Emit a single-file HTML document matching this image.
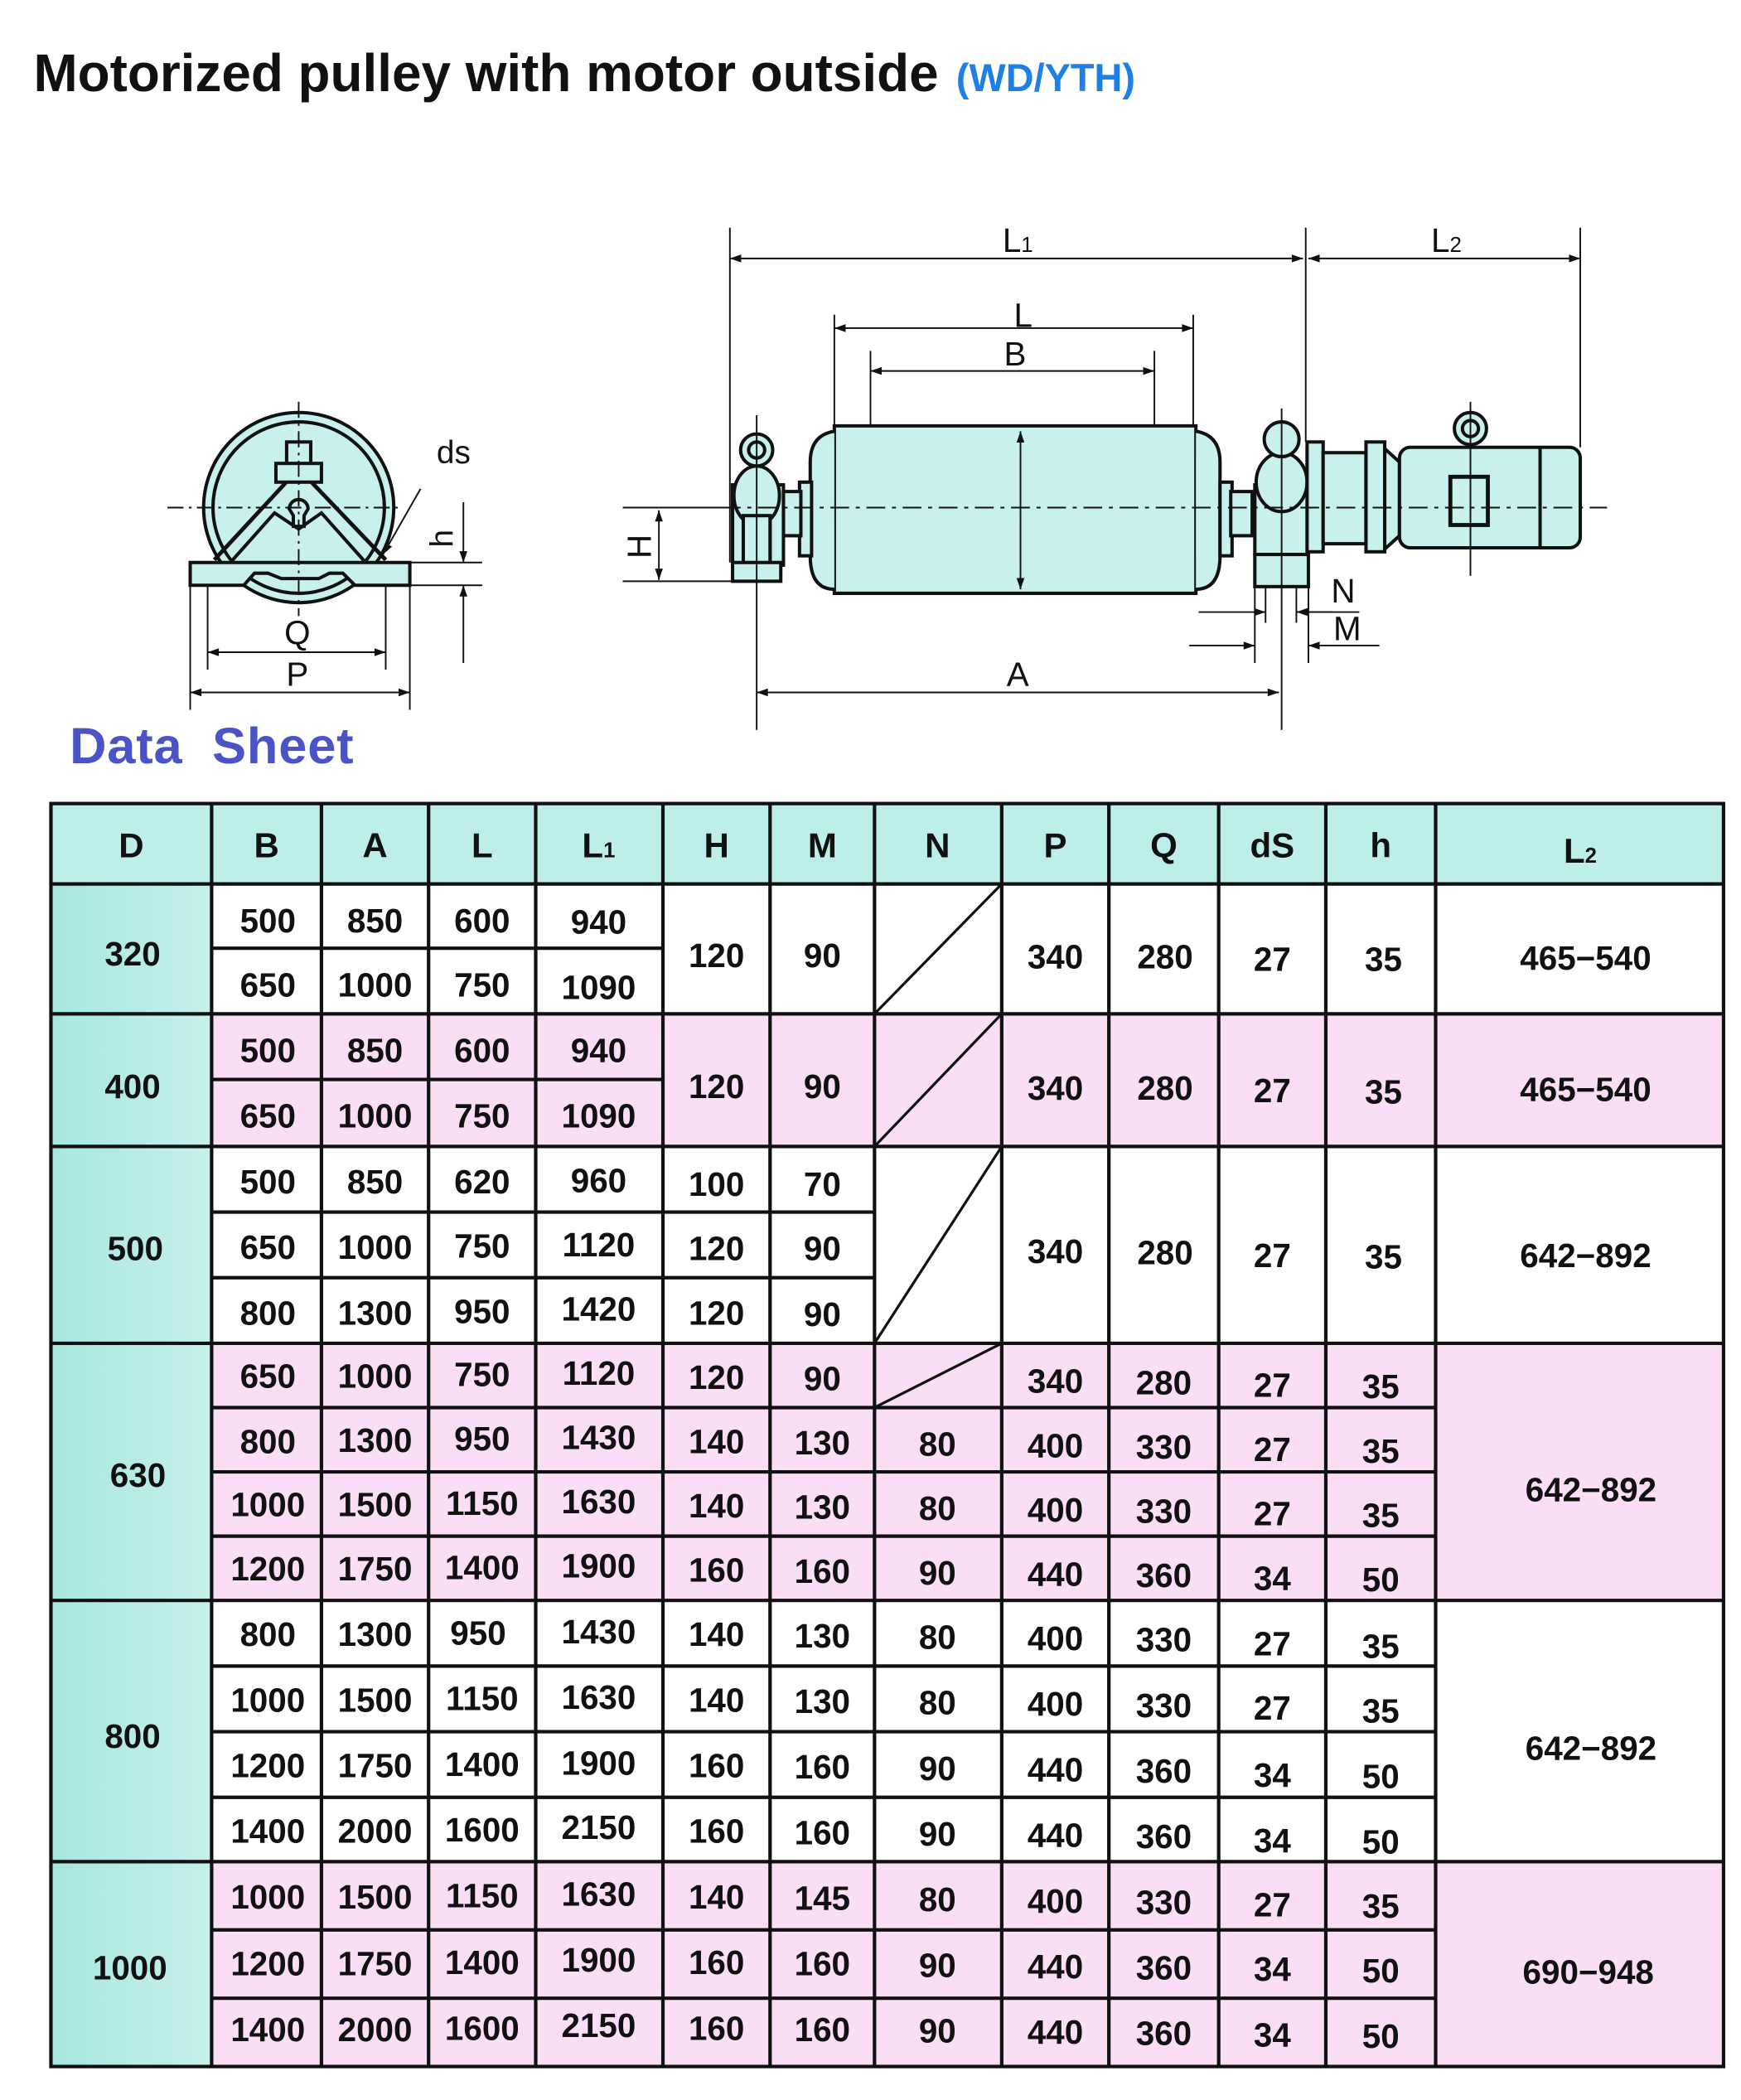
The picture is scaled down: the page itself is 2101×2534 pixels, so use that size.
<!DOCTYPE html>
<html><head><meta charset="utf-8"><style>
html,body{margin:0;padding:0;background:#fff;}
svg{display:block;}
text{font-family:"Liberation Sans",sans-serif;}
</style></head><body>
<svg width="2101" height="2534" viewBox="0 0 1300 1568" xmlns="http://www.w3.org/2000/svg">
<defs>
<marker id="ar" viewBox="0 0 10 10" refX="10" refY="5" markerWidth="9" markerHeight="7" orient="auto-start-reverse"><path d="M0,1.5 L10,5 L0,8.5 z" fill="#111"/></marker>
<linearGradient id="cy" x1="0" x2="1"><stop offset="0" stop-color="#a8e6e0"/><stop offset="1" stop-color="#c6f0ec"/></linearGradient>
</defs>
<text x="25" y="68" font-size="39.5" font-weight="bold" fill="#111">Motorized pulley with motor outside</text>
<text x="714" y="68" font-size="29" font-weight="bold" fill="#1e80e6">(WD/YTH)</text>

<!-- end view -->
<g stroke="#111" stroke-width="2.5" fill="none">
<circle cx="223" cy="379" r="71" fill="#c8f0ec"/>
<circle cx="223" cy="379" r="64"/>
<path d="M160,418 L223,350 L288,418" stroke-width="3"/>
<path d="M172,420 L205,383 L223,395 L240,383 L273,420" />
<rect x="214" y="330" width="18" height="18" fill="#c8f0ec"/>
<rect x="206" y="346" width="34" height="14" fill="#c8f0ec"/>
<path d="M216,380 a7,7 0 1 1 14,0 l-3,5 v8 h-8 v-8 z" fill="#c8f0ec"/>
<path d="M142,420 H306 V437 H265 L256,428 H246 L238,432 H210 L200,428 H190 L182,437 H142 Z" fill="#c8f0ec"/>
</g>
<g stroke="#111" stroke-width="1.2" fill="none">
<line x1="125" y1="379" x2="300" y2="379" stroke-dasharray="12,4,2,4"/>
<line x1="223" y1="300" x2="223" y2="460" stroke-dasharray="12,4,2,4"/>
<line x1="306" y1="420" x2="360" y2="420"/><line x1="306" y1="437" x2="360" y2="437"/>
<line x1="346" y1="375" x2="346" y2="420" marker-end="url(#ar)"/>
<line x1="346" y1="495" x2="346" y2="437" marker-end="url(#ar)"/>
<line x1="314" y1="365" x2="286" y2="414" marker-end="url(#ar)"/>
<line x1="142" y1="437" x2="142" y2="530"/><line x1="306" y1="437" x2="306" y2="530"/>
<line x1="155" y1="437" x2="155" y2="500"/><line x1="288" y1="437" x2="288" y2="500"/>
<line x1="155" y1="487" x2="288" y2="487" marker-start="url(#ar)" marker-end="url(#ar)"/>
<line x1="142" y1="517" x2="306" y2="517" marker-start="url(#ar)" marker-end="url(#ar)"/>
</g>
<text x="326" y="346" font-size="24" fill="#111">ds</text>
<text x="338" y="402" font-size="24" fill="#111" transform="rotate(-90 338 402)" text-anchor="middle">h</text>
<text x="222" y="481" font-size="25" fill="#111" text-anchor="middle">Q</text>
<text x="222" y="512" font-size="25" fill="#111" text-anchor="middle">P</text>

<!-- side view -->
<g stroke="#111" stroke-width="2.5" fill="#c8f0ec">
<path d="M623,318 H893 V443 H623 Z"/>
<path d="M623,322 Q605,325 605,345 V415 Q605,440 623,440"/>
<path d="M893,322 Q911,325 911,345 V415 Q911,440 893,440"/>
<rect x="597" y="360" width="9" height="55"/><rect x="911" y="360" width="9" height="55"/>
<rect x="582" y="367" width="16" height="33"/><rect x="919" y="367" width="16" height="33"/>
<rect x="547" y="362" width="10" height="60"/><rect x="575" y="362" width="10" height="60"/>
<ellipse cx="565" cy="370" rx="17" ry="22"/>
<rect x="555" y="385" width="20" height="40"/>
<rect x="547" y="420" width="36" height="14"/>
<circle cx="565" cy="336" r="12"/><circle cx="565" cy="336" r="6"/>
<rect x="937" y="362" width="40" height="52"/>
<ellipse cx="957" cy="360" rx="19" ry="22"/>
<circle cx="957" cy="328" r="13"/>
<rect x="937" y="414" width="40" height="24"/>
<rect x="976" y="330" width="12" height="82"/><rect x="988" y="338" width="32" height="68"/>
<rect x="1020" y="330" width="14" height="82"/><path d="M1034,335 L1045,345 V400 L1034,410 Z"/>
<rect x="1045" y="334" width="135" height="75" rx="8"/>
<line x1="1150" y1="334" x2="1150" y2="409"/>
<rect x="1083" y="356" width="28" height="36" fill="none" stroke-width="3"/>
<circle cx="1098" cy="320" r="12"/><circle cx="1098" cy="320" r="6"/>
</g>
<g stroke="#111" stroke-width="1.2" fill="none">
<line x1="485" y1="379" x2="1200" y2="379" stroke-dasharray="14,5,3,5"/>
<line x1="762" y1="322" x2="762" y2="440" marker-start="url(#ar)" marker-end="url(#ar)"/>
<line x1="545" y1="170" x2="545" y2="420"/><line x1="975" y1="170" x2="975" y2="330"/><line x1="1180" y1="170" x2="1180" y2="334"/>
<line x1="545" y1="193" x2="973" y2="193" marker-start="url(#ar)" marker-end="url(#ar)"/>
<line x1="977" y1="193" x2="1180" y2="193" marker-start="url(#ar)" marker-end="url(#ar)"/>
<line x1="623" y1="235" x2="623" y2="318"/><line x1="891" y1="235" x2="891" y2="318"/>
<line x1="623" y1="245" x2="891" y2="245" marker-start="url(#ar)" marker-end="url(#ar)"/>
<line x1="650" y1="262" x2="650" y2="318"/><line x1="862" y1="262" x2="862" y2="318"/>
<line x1="650" y1="277" x2="862" y2="277" marker-start="url(#ar)" marker-end="url(#ar)"/>
<line x1="565" y1="310" x2="565" y2="545"/><line x1="957" y1="305" x2="957" y2="545"/>
<line x1="565" y1="517" x2="955" y2="517" marker-start="url(#ar)" marker-end="url(#ar)"/>
<line x1="465" y1="379" x2="545" y2="379"/><line x1="465" y1="434" x2="547" y2="434"/>
<line x1="492" y1="381" x2="492" y2="433" marker-start="url(#ar)" marker-end="url(#ar)"/>
<line x1="937" y1="438" x2="937" y2="495"/><line x1="977" y1="438" x2="977" y2="495"/>
<line x1="945" y1="438" x2="945" y2="465"/><line x1="968" y1="438" x2="968" y2="465"/>
<line x1="895" y1="457" x2="945" y2="457" marker-end="url(#ar)"/><line x1="995" y1="457" x2="968" y2="457" marker-end="url(#ar)"/>
<line x1="968" y1="457" x2="1015" y2="457"/>
<line x1="888" y1="482" x2="937" y2="482" marker-end="url(#ar)"/><line x1="1030" y1="482" x2="977" y2="482" marker-end="url(#ar)"/>
<line x1="1098" y1="300" x2="1098" y2="430"/>
</g>
<g font-size="25" fill="#111" text-anchor="middle">
<text x="760" y="188">L<tspan font-size="16">1</tspan></text>
<text x="1080" y="188">L<tspan font-size="16">2</tspan></text>
<text x="764" y="244">L</text>
<text x="758" y="273">B</text>
<text x="760" y="512">A</text>
<text x="1003" y="450">N</text>
<text x="1006" y="478">M</text>
<text x="486" y="408" transform="rotate(-90 486 408)">H</text>
</g>

<text x="52" y="570" font-size="38" font-weight="bold" fill="#4b53c8" xml:space="preserve" letter-spacing="0.5">Data  Sheet</text>

<!-- table backgrounds -->
<g stroke="none">
<rect x="38" y="600" width="1249" height="60" fill="#bdeeea"/>
<rect x="38" y="660" width="120" height="883" fill="url(#cy)"/>
<rect x="158" y="660" width="1129" height="97" fill="#ffffff"/>
<rect x="158" y="757" width="1129" height="99" fill="#f9def6"/>
<rect x="158" y="856" width="1129" height="147" fill="#ffffff"/>
<rect x="158" y="1003" width="1129" height="192" fill="#f9def6"/>
<rect x="158" y="1195" width="1129" height="195" fill="#ffffff"/>
<rect x="158" y="1390" width="1129" height="153" fill="#f9def6"/>
</g>
<g stroke="#111" stroke-width="2.6" fill="none">
<rect x="38" y="600" width="1249" height="943"/>
<line x1="38" y1="660" x2="1287" y2="660"/>
<line x1="38" y1="757" x2="1287" y2="757"/>
<line x1="38" y1="856" x2="1287" y2="856"/>
<line x1="38" y1="1003" x2="1287" y2="1003"/>
<line x1="38" y1="1195" x2="1287" y2="1195"/>
<line x1="38" y1="1390" x2="1287" y2="1390"/>
<line x1="158" y1="600" x2="158" y2="1543"/>
<line x1="240" y1="600" x2="240" y2="1543"/>
<line x1="320" y1="600" x2="320" y2="1543"/>
<line x1="400" y1="600" x2="400" y2="1543"/>
<line x1="495" y1="600" x2="495" y2="1543"/>
<line x1="575" y1="600" x2="575" y2="1543"/>
<line x1="653" y1="600" x2="653" y2="1543"/>
<line x1="748" y1="600" x2="748" y2="1543"/>
<line x1="828" y1="600" x2="828" y2="1543"/>
<line x1="910" y1="600" x2="910" y2="1543"/>
<line x1="990" y1="600" x2="990" y2="1543"/>
<line x1="1072" y1="600" x2="1072" y2="1543"/>
<line x1="158" y1="708" x2="495" y2="708"/>
<line x1="158" y1="806" x2="495" y2="806"/>
<line x1="158" y1="905" x2="653" y2="905"/>
<line x1="158" y1="954" x2="653" y2="954"/>
<line x1="158" y1="1051" x2="1072" y2="1051"/>
<line x1="158" y1="1099" x2="1072" y2="1099"/>
<line x1="158" y1="1147" x2="1072" y2="1147"/>
<line x1="158" y1="1244" x2="1072" y2="1244"/>
<line x1="158" y1="1293" x2="1072" y2="1293"/>
<line x1="158" y1="1342" x2="1072" y2="1342"/>
<line x1="158" y1="1441" x2="1072" y2="1441"/>
<line x1="158" y1="1492" x2="1072" y2="1492"/>
<line x1="653" y1="757" x2="748" y2="660" stroke-width="2"/>
<line x1="653" y1="856" x2="748" y2="757" stroke-width="2"/>
<line x1="653" y1="1003" x2="748" y2="856" stroke-width="2"/>
<line x1="653" y1="1051" x2="748" y2="1003" stroke-width="2"/>
</g>
<g font-size="26" fill="#111" text-anchor="middle" font-weight="bold">
<text x="98" y="640">D</text><text x="199" y="640">B</text><text x="280" y="640">A</text><text x="360" y="640">L</text>
<text x="447" y="640">L<tspan font-size="16">1</tspan></text><text x="535" y="640">H</text><text x="614" y="640">M</text><text x="700" y="640">N</text>
<text x="788" y="640">P</text><text x="869" y="640">Q</text><text x="950" y="640">dS</text><text x="1031" y="640">h</text>
<text x="1180" y="644">L<tspan font-size="16">2</tspan></text>
</g>
<g font-size="25" fill="#111" text-anchor="middle" font-weight="bold">
<text x="99" y="721">320</text><text x="99" y="820">400</text><text x="101" y="941">500</text><text x="103" y="1110">630</text><text x="99" y="1305">800</text><text x="97" y="1478">1000</text>
<text x="200" y="696">500</text><text x="280" y="696">850</text><text x="360" y="696">600</text><text x="447" y="697">940</text>
<text x="200" y="744">650</text><text x="280" y="744">1000</text><text x="360" y="744">750</text><text x="447" y="746">1090</text>
<text x="535" y="722">120</text><text x="614" y="722">90</text><text x="788" y="723">340</text><text x="870" y="723">280</text><text x="950" y="725">27</text><text x="1033" y="725">35</text><text x="1184" y="724">465−540</text>
<text x="200" y="793">500</text><text x="280" y="793">850</text><text x="360" y="793">600</text><text x="447" y="793">940</text>
<text x="200" y="842">650</text><text x="280" y="842">1000</text><text x="360" y="842">750</text><text x="447" y="842">1090</text>
<text x="535" y="820">120</text><text x="614" y="820">90</text><text x="788" y="821">340</text><text x="870" y="821">280</text><text x="950" y="823">27</text><text x="1033" y="824">35</text><text x="1184" y="822">465−540</text>
<text x="200" y="891">500</text><text x="280" y="891">850</text><text x="360" y="891">620</text><text x="447" y="890">960</text><text x="535" y="893">100</text><text x="614" y="893">70</text>
<text x="200" y="940">650</text><text x="280" y="940">1000</text><text x="360" y="939">750</text><text x="447" y="938">1120</text><text x="535" y="941">120</text><text x="614" y="941">90</text>
<text x="200" y="989">800</text><text x="280" y="989">1300</text><text x="360" y="988">950</text><text x="447" y="986">1420</text><text x="535" y="989">120</text><text x="614" y="990">90</text>
<text x="788" y="943">340</text><text x="870" y="944">280</text><text x="950" y="946">27</text><text x="1033" y="947">35</text><text x="1184" y="946">642−892</text>
<text x="200" y="1036">650</text><text x="280" y="1036">1000</text><text x="360" y="1035">750</text><text x="447" y="1034">1120</text><text x="535" y="1037">120</text><text x="614" y="1038">90</text><text x="788" y="1040">340</text><text x="869" y="1041">280</text><text x="950" y="1043">27</text><text x="1031" y="1044">35</text>
<text x="200" y="1085">800</text><text x="280" y="1084">1300</text><text x="360" y="1083">950</text><text x="447" y="1082">1430</text><text x="535" y="1085">140</text><text x="614" y="1086">130</text><text x="700" y="1087">80</text><text x="788" y="1088">400</text><text x="869" y="1089">330</text><text x="950" y="1091">27</text><text x="1031" y="1092">35</text>
<text x="200" y="1132">1000</text><text x="280" y="1132">1500</text><text x="360" y="1131">1150</text><text x="447" y="1130">1630</text><text x="535" y="1133">140</text><text x="614" y="1134">130</text><text x="700" y="1135">80</text><text x="788" y="1136">400</text><text x="869" y="1137">330</text><text x="950" y="1139">27</text><text x="1031" y="1140">35</text>
<text x="200" y="1180">1200</text><text x="280" y="1180">1750</text><text x="360" y="1179">1400</text><text x="447" y="1178">1900</text><text x="535" y="1181">160</text><text x="614" y="1182">160</text><text x="700" y="1183">90</text><text x="788" y="1184">440</text><text x="869" y="1185">360</text><text x="950" y="1187">34</text><text x="1031" y="1188">50</text>
<text x="1188" y="1121">642−892</text>
<text x="200" y="1229">800</text><text x="280" y="1229">1300</text><text x="357" y="1228">950</text><text x="447" y="1227">1430</text><text x="535" y="1229">140</text><text x="614" y="1230">130</text><text x="700" y="1231">80</text><text x="788" y="1232">400</text><text x="869" y="1233">330</text><text x="950" y="1236">27</text><text x="1031" y="1238">35</text>
<text x="200" y="1278">1000</text><text x="280" y="1278">1500</text><text x="360" y="1277">1150</text><text x="447" y="1276">1630</text><text x="535" y="1278">140</text><text x="614" y="1279">130</text><text x="700" y="1280">80</text><text x="788" y="1281">400</text><text x="869" y="1282">330</text><text x="950" y="1284">27</text><text x="1031" y="1286">35</text>
<text x="200" y="1327">1200</text><text x="280" y="1327">1750</text><text x="360" y="1326">1400</text><text x="447" y="1325">1900</text><text x="535" y="1327">160</text><text x="614" y="1328">160</text><text x="700" y="1329">90</text><text x="788" y="1330">440</text><text x="869" y="1331">360</text><text x="950" y="1334">34</text><text x="1031" y="1335">50</text>
<text x="200" y="1376">1400</text><text x="280" y="1376">2000</text><text x="360" y="1375">1600</text><text x="447" y="1373">2150</text><text x="535" y="1376">160</text><text x="614" y="1377">160</text><text x="700" y="1378">90</text><text x="788" y="1379">440</text><text x="869" y="1380">360</text><text x="950" y="1383">34</text><text x="1031" y="1384">50</text>
<text x="1188" y="1314">642−892</text>
<text x="200" y="1425">1000</text><text x="280" y="1425">1500</text><text x="360" y="1424">1150</text><text x="447" y="1423">1630</text><text x="535" y="1425">140</text><text x="614" y="1426">145</text><text x="700" y="1427">80</text><text x="788" y="1428">400</text><text x="869" y="1429">330</text><text x="950" y="1431">27</text><text x="1031" y="1432">35</text>
<text x="200" y="1475">1200</text><text x="280" y="1475">1750</text><text x="360" y="1474">1400</text><text x="447" y="1472">1900</text><text x="535" y="1474">160</text><text x="614" y="1475">160</text><text x="700" y="1476">90</text><text x="788" y="1477">440</text><text x="869" y="1478">360</text><text x="950" y="1479">34</text><text x="1031" y="1480">50</text>
<text x="200" y="1524">1400</text><text x="280" y="1524">2000</text><text x="360" y="1523">1600</text><text x="447" y="1521">2150</text><text x="535" y="1523">160</text><text x="614" y="1524">160</text><text x="700" y="1525">90</text><text x="788" y="1526">440</text><text x="869" y="1527">360</text><text x="950" y="1528">34</text><text x="1031" y="1529">50</text>
<text x="1186" y="1481">690−948</text>
</g>
</svg>
</body></html>
